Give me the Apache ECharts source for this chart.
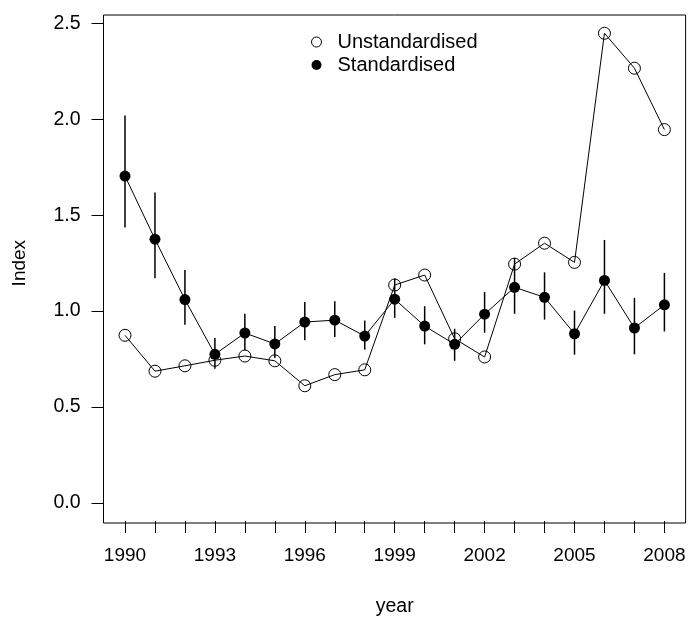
<!DOCTYPE html>
<html>
<head>
<meta charset="utf-8">
<script src="https://cdn.jsdelivr.net/npm/echarts@6/dist/echarts.min.js"></script>
<style>
html,body{margin:0;padding:0;background:#fff;}
#chart{width:689px;height:622px;}
</style>
</head>
<body>
<div id="chart"></div>
<script>
const years = [1990,1991,1992,1993,1994,1995,1996,1997,1998,1999,2000,2001,2002,2003,2004,2005,2006,2007,2008];
const unstandardised = [0.874,0.687,0.715,0.744,0.766,0.741,0.611,0.669,0.694,1.136,1.188,0.856,0.761,1.245,1.354,1.254,2.448,2.266,1.946];
const standardised = [1.704,1.375,1.060,0.775,0.886,0.829,0.943,0.953,0.870,1.062,0.922,0.827,0.984,1.124,1.072,0.882,1.160,0.912,1.033];
const stdLower = [1.436,1.171,0.929,0.700,0.796,0.756,0.848,0.865,0.799,0.965,0.827,0.741,0.887,0.986,0.956,0.773,0.986,0.775,0.894];
const stdUpper = [2.020,1.618,1.214,0.860,0.986,0.922,1.047,1.052,0.951,1.171,1.026,0.908,1.099,1.277,1.202,1.003,1.371,1.069,1.199];
const yTicks = [0, 0.5, 1.0, 1.5, 2.0, 2.5];
const labelYears = [1990,1993,1996,1999,2002,2005,2008];

const FONT = 'Liberation Sans, Arial, Helvetica, sans-serif';
const chart = echarts.init(document.getElementById('chart'), null, {renderer:'canvas'});

const option = {
  animation: false,
  backgroundColor: '#fff',
  textStyle: {fontFamily: FONT, color: '#000'},
  grid: [
    {left: 125, right: 24.6, top: 23.3, bottom: 117, containLabel: false},
    {left: 103.5, right: 3.4, top: 15, bottom: 99, show: true, borderColor: '#000', borderWidth: 1, backgroundColor: 'transparent'}
  ],
  legend: {
    orient: 'vertical',
    left: 306,
    top: 27,
    itemWidth: 10,
    itemHeight: 10,
    itemGap: 3,
    textStyle: {fontSize: 20, color: '#000', fontFamily: FONT, padding: [0,0,0,11]},
    data: [
      {name: 'Unstandardised', icon: 'circle', itemStyle: {color: 'rgba(0,0,0,0)', borderColor: '#000', borderWidth: 1}},
      {name: 'Standardised', icon: 'circle', itemStyle: {color: '#000', borderWidth: 0}}
    ]
  },
  xAxis: [
    {
      type: 'value', gridIndex: 0, min: years[0], max: years[years.length-1], interval: 1,
      offset: 18,
      name: 'year', nameLocation: 'middle', nameGap: 76,
      nameTextStyle: {fontSize: 19.5, color: '#000', fontFamily: FONT},
      axisLine: {show: false, onZero: false, lineStyle: {color: '#000', width: 1}},
      axisTick: {show: true, length: 12, lineStyle: {color: '#000', width: 1}},
      axisLabel: {
        margin: 25, fontSize: 19, color: '#000', fontFamily: FONT,
        formatter: v => labelYears.indexOf(Math.round(v)) >= 0 ? String(Math.round(v)) : ''
      },
      splitLine: {show: false}
    },
    {type: 'value', gridIndex: 1, show: false, min: 0, max: 1}
  ],
  yAxis: [
    {
      type: 'value', gridIndex: 0, min: yTicks[0], max: yTicks[yTicks.length-1], interval: 0.5,
      offset: 21.5,
      name: 'Index', nameLocation: 'middle', nameGap: 74,
      nameTextStyle: {fontSize: 19, color: '#000', fontFamily: FONT},
      axisLine: {show: false, onZero: false, lineStyle: {color: '#000', width: 1}},
      axisTick: {show: true, length: 12, lineStyle: {color: '#000', width: 1}},
      axisLabel: {margin: 23, fontSize: 19.5, color: '#000', fontFamily: FONT, formatter: v => v.toFixed(1)},
      splitLine: {show: false}
    },
    {type: 'value', gridIndex: 1, show: false, min: 0, max: 1}
  ],
  series: [
    {
      name: 'Unstandardised', type: 'line', xAxisIndex: 0, yAxisIndex: 0,
      data: years.map((y,i) => [y, unstandardised[i]]),
      symbol: 'circle', symbolSize: 12,
      itemStyle: {color: 'rgba(0,0,0,0)', borderColor: '#000', borderWidth: 1},
      lineStyle: {color: '#000', width: 1},
      z: 2
    },
    {
      name: 'StdErr', type: 'custom', xAxisIndex: 0, yAxisIndex: 0,
      data: years.map((y,i) => [y, stdLower[i], stdUpper[i]]),
      encode: {x: 0, y: [1,2]},
      renderItem: function(params, api){
        const p1 = api.coord([api.value(0), api.value(1)]);
        const p2 = api.coord([api.value(0), api.value(2)]);
        return {type: 'line', shape: {x1: p1[0], y1: p1[1], x2: p2[0], y2: p2[1]}, style: {stroke: '#000', lineWidth: 1.5}};
      },
      z: 3
    },
    {
      name: 'Standardised', type: 'line', xAxisIndex: 0, yAxisIndex: 0,
      data: years.map((y,i) => [y, standardised[i]]),
      symbol: 'circle', symbolSize: 11,
      itemStyle: {color: '#000', borderWidth: 0},
      lineStyle: {color: '#000', width: 1},
      z: 4
    }
  ]
};
chart.setOption(option);
</script>
</body>
</html>
